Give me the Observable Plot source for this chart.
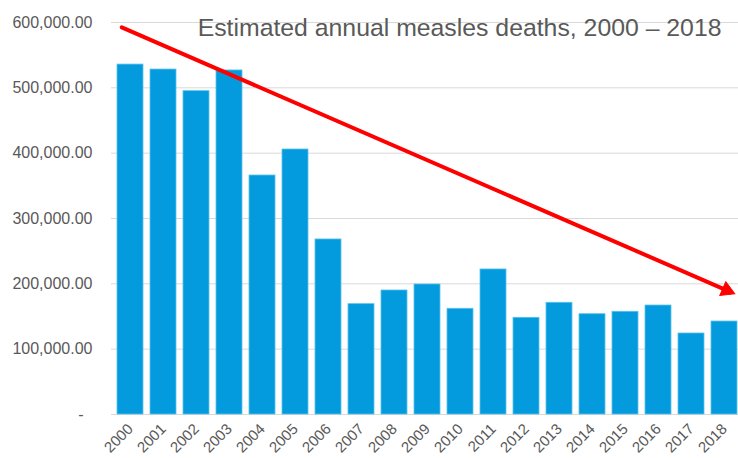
<!DOCTYPE html>
<html>
<head>
<meta charset="utf-8">
<script src="https://cdn.jsdelivr.net/npm/d3@7"></script>
<script src="https://cdn.jsdelivr.net/npm/@observablehq/plot@0.6"></script>
<style>
  html, body { margin: 0; padding: 0; background: #fff; overflow: hidden; }
  #chart svg { display: block; }
</style>
</head>
<body>
<div id="chart"></div>
<script>
const years = ["2000","2001","2002","2003","2004","2005","2006","2007","2008","2009",
               "2010","2011","2012","2013","2014","2015","2016","2017","2018"];
const deaths = [535600, 528000, 494900, 526600, 365800, 405600, 267900, 168900, 189800, 199000,
                161800, 222000, 148000, 171000, 153500, 157200, 166800, 124000, 142300];
const yTicks = [0, 100000, 200000, 300000, 400000, 500000, 600000];
const trendYears = ["2000", "2018"];
const trendValues = [586700, 191600];
const headValue = [190100];
const titleText = ["Estimated annual measles deaths, 2000 \u2013 2018"];

const data = years.map((y, i) => ({year: y, value: deaths[i]}));
const trend = [{x1: trendYears[0], y1: trendValues[0], x2: trendYears[1], y2: trendValues[1]}];
const head = [{x: trendYears[1], y: headValue[0]}];

const fmt = d => d === 0 ? "-\u00a0\u00a0" : d3.format(",.2f")(d);

const chart = Plot.plot({
  width: 738,
  height: 458,
  marginTop: 22,
  marginBottom: 44,
  marginLeft: 111,
  marginRight: 0,
  style: {fontFamily: "'Liberation Sans', Arial, sans-serif", color: "#595959", background: "#fff"},
  x: {domain: years, range: [111, 744], paddingInner: 0.2, paddingOuter: 0.1, label: null},
  y: {domain: [0, 600000], label: null},
  marks: [
    Plot.gridY(yTicks, {stroke: "#d9d9d9", strokeOpacity: 1, strokeWidth: 1}),
    Plot.barY(data, {x: "year", y: "value", fill: "#039BDD", stroke: "#5cc0ec", strokeWidth: 0.8}),
    Plot.axisY(yTicks, {tickSize: 0, tickPadding: 19, tickFormat: fmt, fontSize: 16, fill: "#595959", label: null}),
    Plot.axisX({tickSize: 0, tickPadding: 12, tickRotate: -45, fontSize: 15, fill: "#595959", label: null}),
    Plot.arrow(trend, {x1: "x1", y1: "y1", x2: "x2", y2: "y2", stroke: "#ff0000", strokeWidth: 4,
      insetStart: -9.5, insetEnd: -2.5, headLength: 0}),
    Plot.dot(head, {x: "x", y: "y", dx: 2.3, symbol: "triangle", r: 5.6, rotate: 113.3, fill: "#ff0000", stroke: "#ff0000", strokeWidth: 1}),
    Plot.text(titleText, {text: d => d, frameAnchor: "top-right", dx: -17, dy: 6, fontSize: 24.8, fill: "#595959", textAnchor: "end", lineAnchor: "middle"})
  ]
});
document.getElementById("chart").appendChild(chart);
</script>
</body>
</html>
